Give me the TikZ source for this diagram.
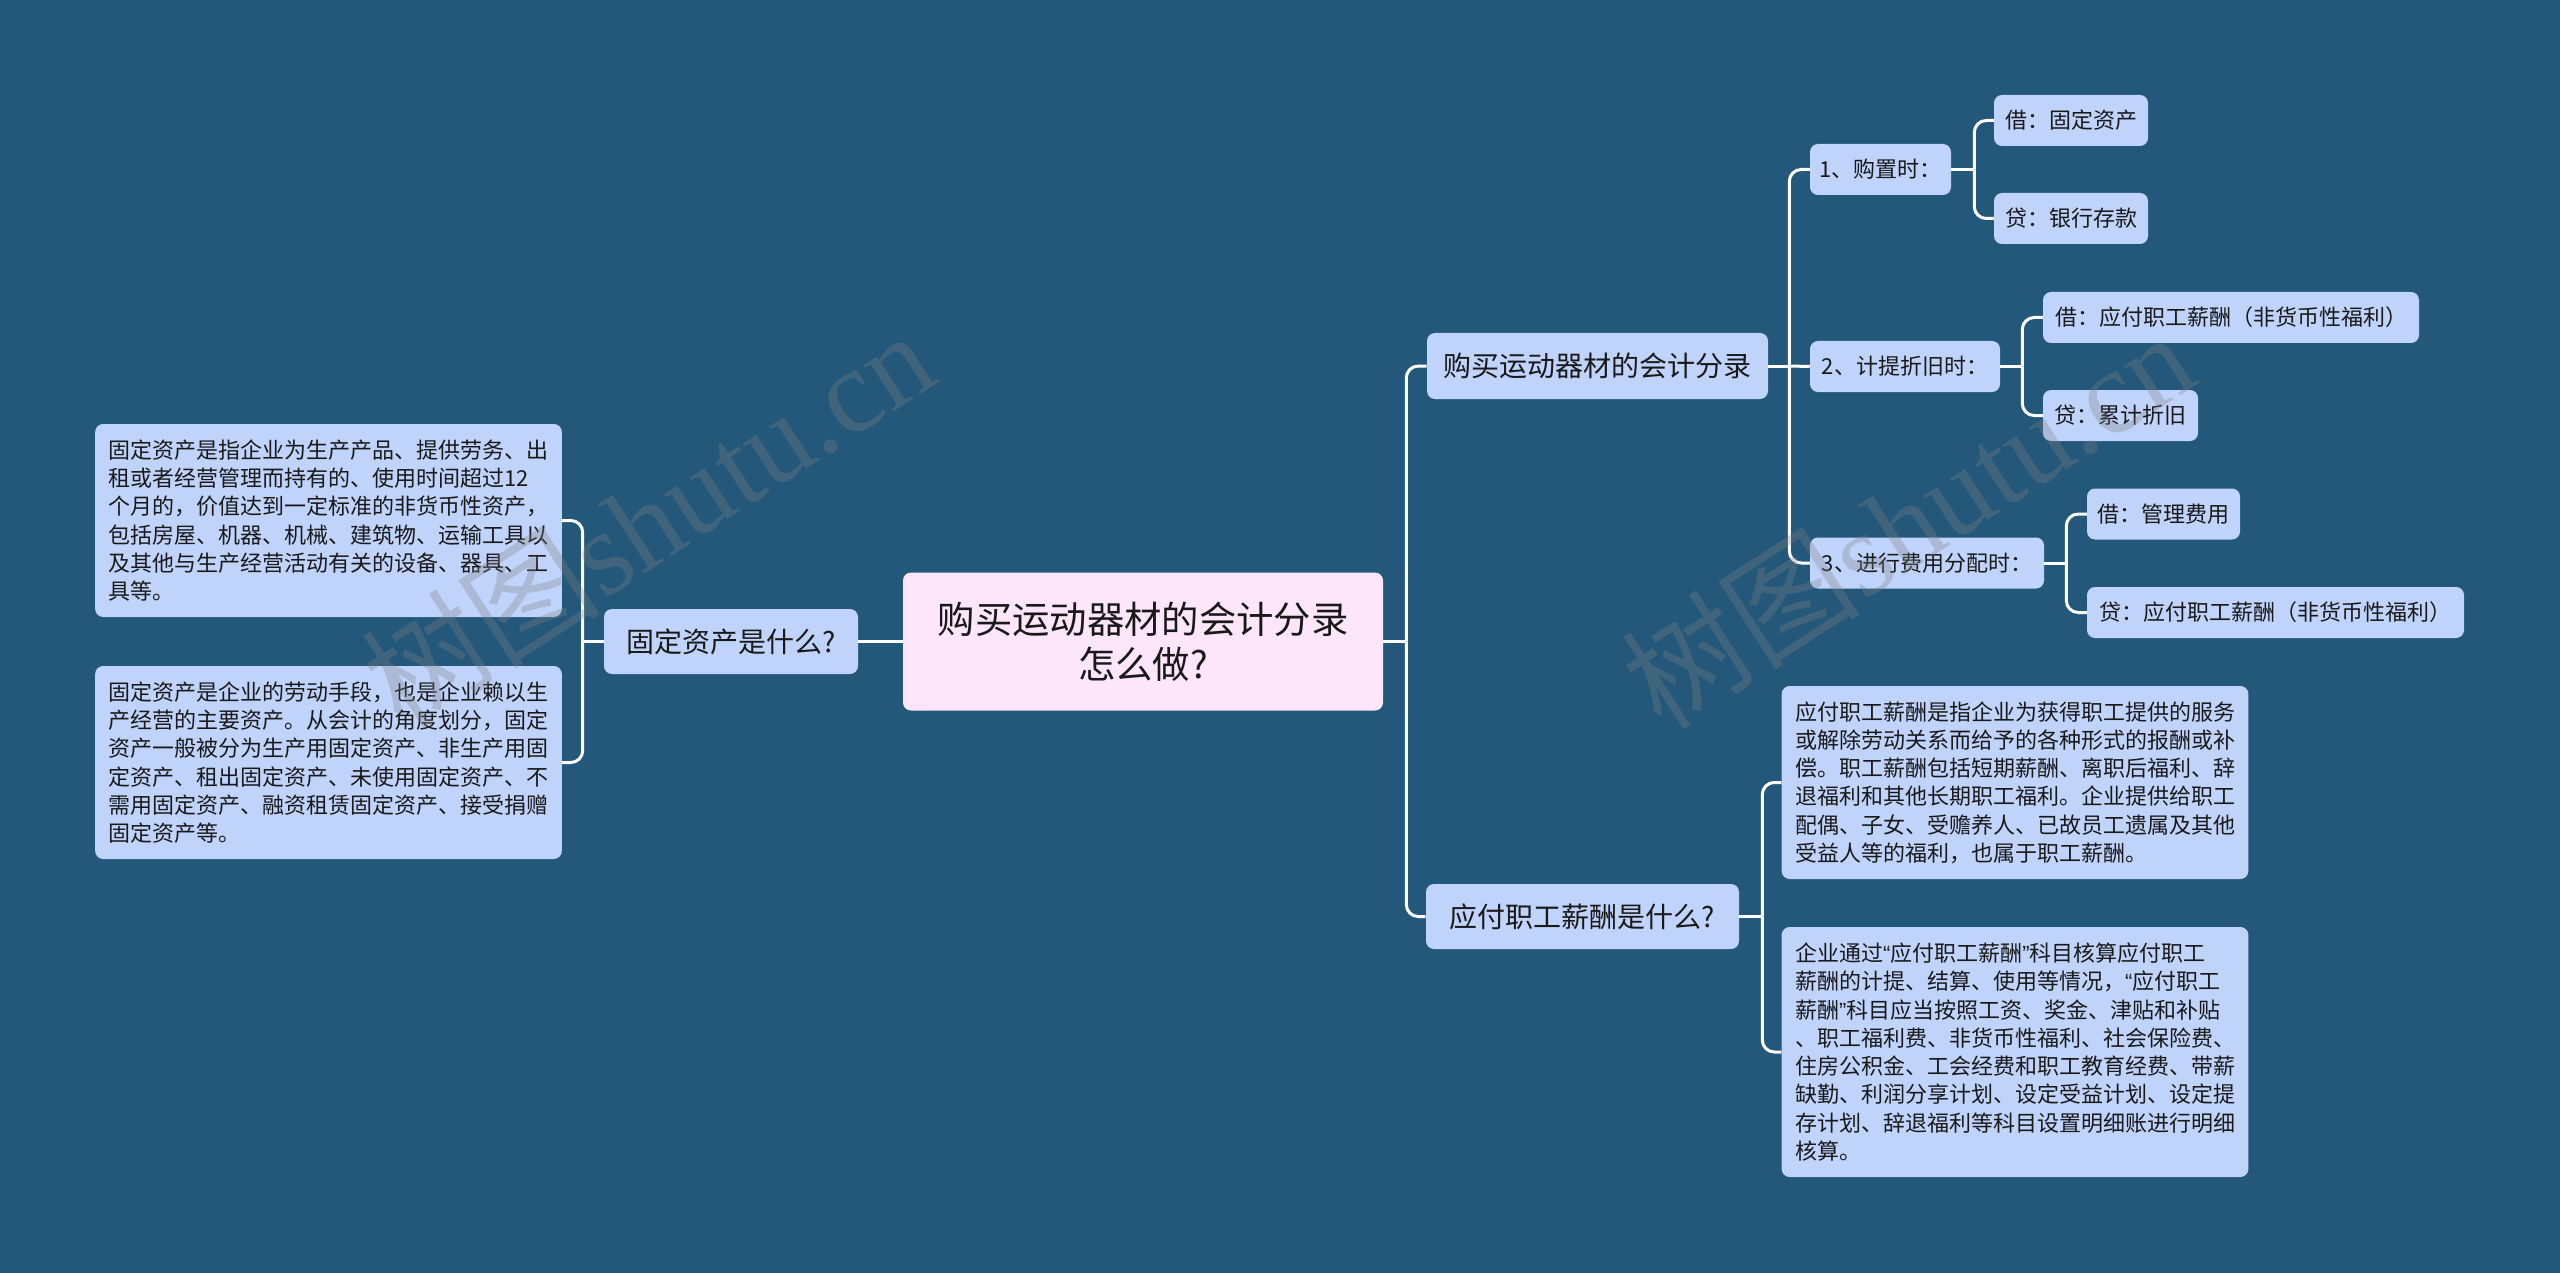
\documentclass[tikz,border=0pt]{standalone}
\usepackage{fontspec}
\setmainfont{Noto Sans CJK SC}
\newfontfamily\wmlatin{Liberation Serif}
\newfontfamily\qf{Liberation Sans}
\definecolor{bg}{RGB}{35,88,122}
\definecolor{nodefill}{RGB}{191,211,251}
\definecolor{rootfill}{RGB}{253,230,250}
\definecolor{txt}{RGB}{25,25,25}
\newcommand{\fsz}[2]{\fontsize{#1}{#2}\selectfont}
\newcommand{\myoq}{{\qf “}}
\newcommand{\mycq}{{\qf ”}}
\begin{document}
\begin{tikzpicture}[x=0.75pt,y=-0.75pt,
  box/.style={rectangle, rounded corners=6pt, fill=nodefill, text=txt, inner sep=0pt},
  smallbox/.style={box, font=\fsz{16.5pt}{20pt}, minimum height=38.25pt},
  midbox/.style={box, font=\fsz{21pt}{25pt}, minimum height=48.75pt},
  leafbox/.style={box, font=\fsz{16.5pt}{21.2pt}, align=left, minimum width=350pt},
  conn/.style={draw=white, line width=2.25pt},
  branch/.style={conn, rounded corners=9pt},
  wm/.style={rotate=33, text=gray, opacity=0.3, font=\fsz{90pt}{94pt}}
]
\useasboundingbox (0,0) rectangle (2560,1273);
\fill[bg] (0,0) rectangle (2560,1273);

% root
\node[box, fill=rootfill, font=\fsz{28pt}{33.75pt}, align=center, minimum width=360pt, minimum height=103.5pt] (root) at (1143,641.5) {购买运动器材的会计分录\\怎么做?};

% left
\node[midbox, minimum width=190.5pt] (lc) at (731,641.5) {固定资产是什么?};
\node[leafbox, minimum height=144.75pt] (l1) at (328.5,520.5) {固定资产是指企业为生产产品、提供劳务、出\\租或者经营管理而持有的、使用时间超过12\\个月的，价值达到一定标准的非货币性资产，\\包括房屋、机器、机械、建筑物、运输工具以\\及其他与生产经营活动有关的设备、器具、工\\具等。};
\node[leafbox, minimum height=144.75pt] (l2) at (328.5,762.5) {固定资产是企业的劳动手段，也是企业赖以生\\产经营的主要资产。从会计的角度划分，固定\\资产一般被分为生产用固定资产、非生产用固\\定资产、租出固定资产、未使用固定资产、不\\需用固定资产、融资租赁固定资产、接受捐赠\\固定资产等。};

% right children
\node[midbox, minimum width=255.75pt, minimum height=49.5pt] (c1) at (1597.5,366) {购买运动器材的会计分录};
\node[midbox, minimum width=234.75pt] (c2) at (1582.5,916.5) {应付职工薪酬是什么?};

\node[smallbox, minimum width=105.75pt] (g1) at (1880.5,169.5) {1、购置时：};
\node[smallbox, minimum width=142.5pt] (g2) at (1905,366.5) {2、计提折旧时：};
\node[smallbox, minimum width=175.5pt] (g3) at (1927,563) {3、进行费用分配时：};

\node[smallbox, minimum width=115.5pt] (h1) at (2071,120.5) {借：固定资产};
\node[smallbox, minimum width=115.5pt] (h2) at (2071,218.5) {贷：银行存款};
\node[smallbox, minimum width=282pt] (h3) at (2231,317.5) {借：应付职工薪酬（非货币性福利）};
\node[smallbox, minimum width=116.25pt] (h4) at (2120.5,415.5) {贷：累计折旧};
\node[smallbox, minimum width=114.75pt] (h5) at (2163.5,514) {借：管理费用};
\node[smallbox, minimum width=282.75pt] (h6) at (2275.5,612.5) {贷：应付职工薪酬（非货币性福利）};

\node[leafbox, minimum height=144.75pt] (la) at (2015,782.5) {应付职工薪酬是指企业为获得职工提供的服务\\或解除劳动关系而给予的各种形式的报酬或补\\偿。职工薪酬包括短期薪酬、离职后福利、辞\\退福利和其他长期职工福利。企业提供给职工\\配偶、子女、受赡养人、已故员工遗属及其他\\受益人等的福利，也属于职工薪酬。};
\node[leafbox, minimum height=187.5pt] (lb) at (2015,1052) {企业通过\myoq 应付职工薪酬\mycq 科目核算应付职工\\薪酬的计提、结算、使用等情况，\myoq 应付职工\\薪酬\mycq 科目应当按照工资、奖金、津贴和补贴\\、职工福利费、非货币性福利、社会保险费、\\住房公积金、工会经费和职工教育经费、带薪\\缺勤、利润分享计划、设定受益计划、设定提\\存计划、辞退福利等科目设置明细账进行明细\\核算。};

% connectors
\draw[conn] (root.west) -- (lc.east);
\draw[conn] (lc.west) -- ++(-21,0) coordinate (sL);
\draw[branch] (sL) |- (l1.east);
\draw[branch] (sL) |- (l2.east);

\draw[conn] (root.east) -- ++(23,0) coordinate (sR);
\draw[branch] (sR) |- (c1.west);
\draw[branch] (sR) |- (c2.west);

\draw[conn] (c1.east) -- ++(21,0) coordinate (s1);
\draw[branch] (s1) |- (g1.west);
\draw[conn] (s1) -- (g2.west);
\draw[branch] (s1) |- (g3.west);

\draw[conn] (g1.east) -- ++(23,0) coordinate (s2);
\draw[branch] (s2) |- (h1.west);
\draw[branch] (s2) |- (h2.west);

\draw[conn] (g2.east) -- ++(22,0) coordinate (s3);
\draw[branch] (s3) |- (h3.west);
\draw[branch] (s3) |- (h4.west);

\draw[conn] (g3.east) -- ++(22,0) coordinate (s4);
\draw[branch] (s4) |- (h5.west);
\draw[branch] (s4) |- (h6.west);

\draw[conn] (c2.east) -- ++(23,0) coordinate (s5);
\draw[branch] (s5) |- (la.west);
\draw[branch] (s5) |- (lb.west);

% watermarks
\node[wm] (wm1) at (647,518) {树图{\wmlatin shutu.cn}};
\node[wm] (wm2) at (1907,519) {树图{\wmlatin shutu.cn}};
\end{tikzpicture}
\end{document}
